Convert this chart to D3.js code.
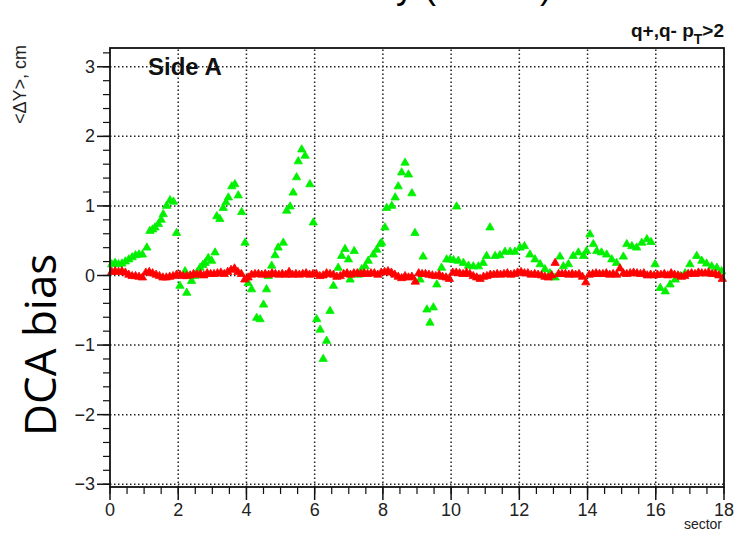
<!DOCTYPE html>
<html>
<head>
<meta charset="utf-8">
<script src="https://cdn.jsdelivr.net/npm/d3@7"></script>
<style>
  body { margin: 0; background: #fff; }
  svg { display: block; font-family: "Liberation Sans", Arial, sans-serif; }
</style>
</head>
<body>
<svg id="chart" width="736" height="536"></svg>
<script>
// red series: one point every 0.1 sector
const redY = [
  0.05,0.06,0.05,0.06,0.04,0.01,-0.01,-0.01,-0.02,-0.03,
  0.04,0.05,0.03,0.01,-0.01,-0.03,-0.03,-0.02,-0.01,0.01,
  0.01,-0.01,-0.01,0.00,0.02,0.01,0.02,0.00,0.03,0.02,
  0.02,0.03,0.04,0.02,0.05,0.08,0.10,0.05,0.02,-0.06,
  -0.03,0.01,0.02,0.02,0.01,0.02,0.01,0.03,0.02,0.01,
  0.02,0.01,0.05,0.01,0.02,0.01,0.02,0.03,0.01,0.02,
  0.02,-0.01,0.00,0.03,0.02,0.01,-0.02,-0.01,0.02,0.03,
  0.01,0.03,0.03,0.02,0.03,0.02,0.03,0.03,0.01,0.04,
  0.05,0.06,0.04,0.01,-0.02,-0.04,-0.01,-0.03,-0.02,-0.09,
  0.03,0.02,0.02,0.01,0.00,-0.01,0.01,-0.02,-0.03,-0.05,
  0.04,0.04,0.03,0.02,0.04,0.02,-0.01,-0.03,-0.05,-0.02,
  -0.01,0.01,0.01,0.02,0.01,0.02,0.03,0.01,0.02,0.04,
  0.05,0.03,0.03,0.01,0.02,0.01,0.00,-0.02,-0.03,0.00,
  0.18,0.02,0.02,0.02,0.01,0.02,0.01,0.02,-0.02,-0.10,
  0.01,0.02,0.03,0.02,0.02,0.03,0.01,0.02,0.01,0.10,
  0.03,0.02,0.03,0.04,0.03,0.02,0.03,0.00,0.01,0.00,
  0.01,0.01,0.02,0.00,0.03,0.01,0.00,-0.02,-0.01,0.02,
  0.03,0.02,0.04,0.03,0.03,0.04,0.02,0.02,0.00,-0.05
];
const redX = redY.map((d, i) => i * 0.1 + 0.05);

// green series
const greenX = [
  0.05,0.15,0.25,0.35,0.45,0.55,0.65,0.75,0.85,0.95,1.08,1.17,1.25,1.32,1.42,1.50,1.56,1.66,1.76,1.86,1.95,
  2.05,2.20,2.25,2.39,2.49,2.56,2.64,2.72,2.79,2.88,2.98,3.08,3.13,3.22,3.32,3.40,3.47,3.57,3.66,3.76,3.86,3.96,
  4.05,4.15,4.30,4.40,4.50,4.59,4.64,4.74,4.84,4.93,5.08,5.18,5.28,5.37,5.47,5.52,5.62,5.72,5.86,5.96,
  6.06,6.16,6.25,6.35,6.45,6.55,6.69,6.79,6.89,6.99,7.04,7.16,7.28,7.38,7.48,7.57,7.72,7.82,7.92,7.96,
  8.06,8.11,8.26,8.36,8.45,8.55,8.65,8.75,8.85,8.94,9.09,9.18,9.29,9.38,9.48,9.58,9.72,9.87,9.97,
  10.07,10.16,10.21,10.36,10.51,10.65,10.80,10.94,11.04,11.14,11.29,11.43,11.58,11.73,11.87,
  12.02,12.15,12.31,12.46,12.61,12.75,12.90,13.05,13.19,13.29,13.44,13.58,13.73,13.88,13.97,
  14.07,14.17,14.27,14.41,14.56,14.71,14.85,15.05,15.15,15.30,15.44,15.59,15.74,15.86,15.98,
  16.13,16.28,16.42,16.57,16.72,16.86,17.00,17.20,17.35,17.49,17.64,17.79,17.93
];
const greenY = [
  0.16,0.18,0.16,0.17,0.20,0.23,0.26,0.29,0.30,0.30,0.40,0.64,0.66,0.69,0.74,0.80,0.88,1.00,1.08,1.06,0.61,
  -0.15,0.06,-0.25,-0.08,-0.01,0.05,0.11,0.15,0.18,0.25,0.21,0.33,0.85,0.81,0.97,1.05,1.12,1.28,1.31,1.15,0.91,0.47,
  -0.11,-0.20,-0.61,-0.63,-0.42,-0.20,-0.01,0.14,0.29,0.40,0.47,0.93,0.99,1.19,1.41,1.64,1.81,1.72,1.31,0.76,
  -0.63,-0.78,-1.20,-0.94,-0.51,-0.15,0.11,0.28,0.38,0.23,-0.06,0.35,0.01,0.09,0.13,0.21,0.30,0.37,0.45,0.47,
  0.69,0.97,1.00,1.12,1.28,1.48,1.62,1.45,1.18,0.61,-0.06,0.27,-0.49,-0.68,-0.46,-0.13,0.11,0.23,0.23,
  0.22,0.99,0.21,0.18,0.14,0.13,0.13,0.18,0.28,0.69,0.28,0.29,0.34,0.34,0.34,
  0.40,0.42,0.30,0.23,0.16,0.09,0.03,-0.03,0.27,0.13,0.16,0.28,0.33,0.28,0.35,
  0.59,0.45,0.35,0.33,0.30,0.23,0.18,0.27,0.45,0.42,0.40,0.47,0.52,0.48,0.16,
  -0.18,-0.23,-0.13,-0.06,-0.01,0.03,0.16,0.28,0.21,0.17,0.13,0.11,0.06
];

const xTicks = d3.range(0, 19, 2);
const yTicks = [-3, -2, -1, 0, 1, 2, 3];

const svg = d3.select("#chart");

const x = d3.scaleLinear().domain([0, 18]).range([110, 724]);
const y = d3.scaleLinear().domain([-3.04, 3.27]).range([487, 48]);

// slide title, cut off by the top edge (as in the source slide)
svg.append("text")
  .attr("x", 462).attr("y", -2)
  .attr("text-anchor", "middle")
  .attr("font-size", 36)
  .text("Δy (Side A)");

// grid
const grid = svg.append("g")
  .attr("stroke", "#222").attr("stroke-width", 1.5)
  .attr("stroke-dasharray", "1.5,2.5");
grid.selectAll(".gx").data(xTicks.filter(d => d > 0 && d < 18)).enter()
  .append("line")
  .attr("x1", d => x(d)).attr("x2", d => x(d))
  .attr("y1", y.range()[0]).attr("y2", y.range()[1]);
grid.selectAll(".gy").data(yTicks).enter()
  .append("line")
  .attr("y1", d => y(d)).attr("y2", d => y(d))
  .attr("x1", x.range()[0]).attr("x2", x.range()[1]);

// markers
const tri = d3.symbol().type(d3.symbolTriangle).size(30);
svg.append("g").selectAll("path")
  .data(greenX.map((d, i) => [d, greenY[i]]))
  .enter().append("path")
  .attr("d", tri)
  .attr("transform", d => "translate(" + x(d[0]) + "," + y(d[1]) + ")")
  .attr("fill", "#00f000").attr("stroke", "#00f000").attr("stroke-width", 0.8)
  .attr("stroke-linejoin", "round");
svg.append("g").selectAll("path")
  .data(redX.map((d, i) => [d, redY[i]]))
  .enter().append("path")
  .attr("d", tri)
  .attr("transform", d => "translate(" + x(d[0]) + "," + y(d[1]) + ")")
  .attr("fill", "#ff0000").attr("stroke", "#ff0000").attr("stroke-width", 0.8)
  .attr("stroke-linejoin", "round");

// frame
svg.append("rect")
  .attr("x", x(0)).attr("y", y.range()[1])
  .attr("width", x(18) - x(0)).attr("height", y.range()[0] - y.range()[1])
  .attr("fill", "none").attr("stroke", "#111").attr("stroke-width", 1.8);

// y axis
const yAxis = svg.append("g").attr("transform", "translate(" + x(0) + ",0)");
yAxis.selectAll(".minor").data(d3.range(-3, 3.21, 0.2)).enter()
  .append("line")
  .attr("x1", -7).attr("x2", 0)
  .attr("y1", d => y(d)).attr("y2", d => y(d))
  .attr("stroke", "#111").attr("stroke-width", 1.2);
yAxis.selectAll(".major").data(yTicks).enter()
  .append("line")
  .attr("x1", -13).attr("x2", 0)
  .attr("y1", d => y(d)).attr("y2", d => y(d))
  .attr("stroke", "#111").attr("stroke-width", 1.5);
yAxis.selectAll("text").data(yTicks).enter()
  .append("text")
  .attr("x", -15).attr("y", d => y(d) + 6)
  .attr("text-anchor", "end")
  .attr("font-size", 18).attr("fill", "#222")
  .text(d => d < 0 ? "\u2212" + (-d) : d);

// x axis
const xAxis = svg.append("g").attr("transform", "translate(0," + y.range()[0] + ")");
xAxis.selectAll(".minor").data(d3.range(0, 18.01, 0.5)).enter()
  .append("line")
  .attr("x1", d => x(d)).attr("x2", d => x(d))
  .attr("y1", 0).attr("y2", 7)
  .attr("stroke", "#111").attr("stroke-width", 1.2);
xAxis.selectAll(".major").data(xTicks).enter()
  .append("line")
  .attr("x1", d => x(d)).attr("x2", d => x(d))
  .attr("y1", 0).attr("y2", 13)
  .attr("stroke", "#111").attr("stroke-width", 1.5);
xAxis.selectAll("text").data(xTicks).enter()
  .append("text")
  .attr("x", d => x(d)).attr("y", 29)
  .attr("text-anchor", "middle")
  .attr("font-size", 18).attr("fill", "#222")
  .text(d => d);

svg.append("text")
  .attr("x", 722).attr("y", 529)
  .attr("text-anchor", "end")
  .attr("font-size", 14).attr("fill", "#222")
  .text("sector");

// y titles
svg.append("text")
  .attr("transform", "translate(26,45) rotate(-90)")
  .attr("text-anchor", "end")
  .attr("font-size", 18).attr("fill", "#222")
  .text("<ΔY>, cm");

svg.append("text")
  .attr("transform", "translate(56,436) rotate(-90)")
  .attr("font-family", "'Open Sans', sans-serif")
  .attr("font-size", 44)
  .text("DCA bias");

// labels
svg.append("text")
  .attr("x", 148).attr("y", 75)
  .attr("font-size", 24).attr("font-weight", "bold").attr("fill", "#111")
  .text("Side A");

const q = svg.append("text")
  .attr("x", 724).attr("y", 37)
  .attr("text-anchor", "end")
  .attr("font-size", 19).attr("font-weight", "bold").attr("fill", "#111");
q.append("tspan").text("q+,q- p");
q.append("tspan").attr("font-size", 14).attr("dy", 7).text("T");
q.append("tspan").attr("dy", -7).text(">2");
</script>
</body>
</html>
